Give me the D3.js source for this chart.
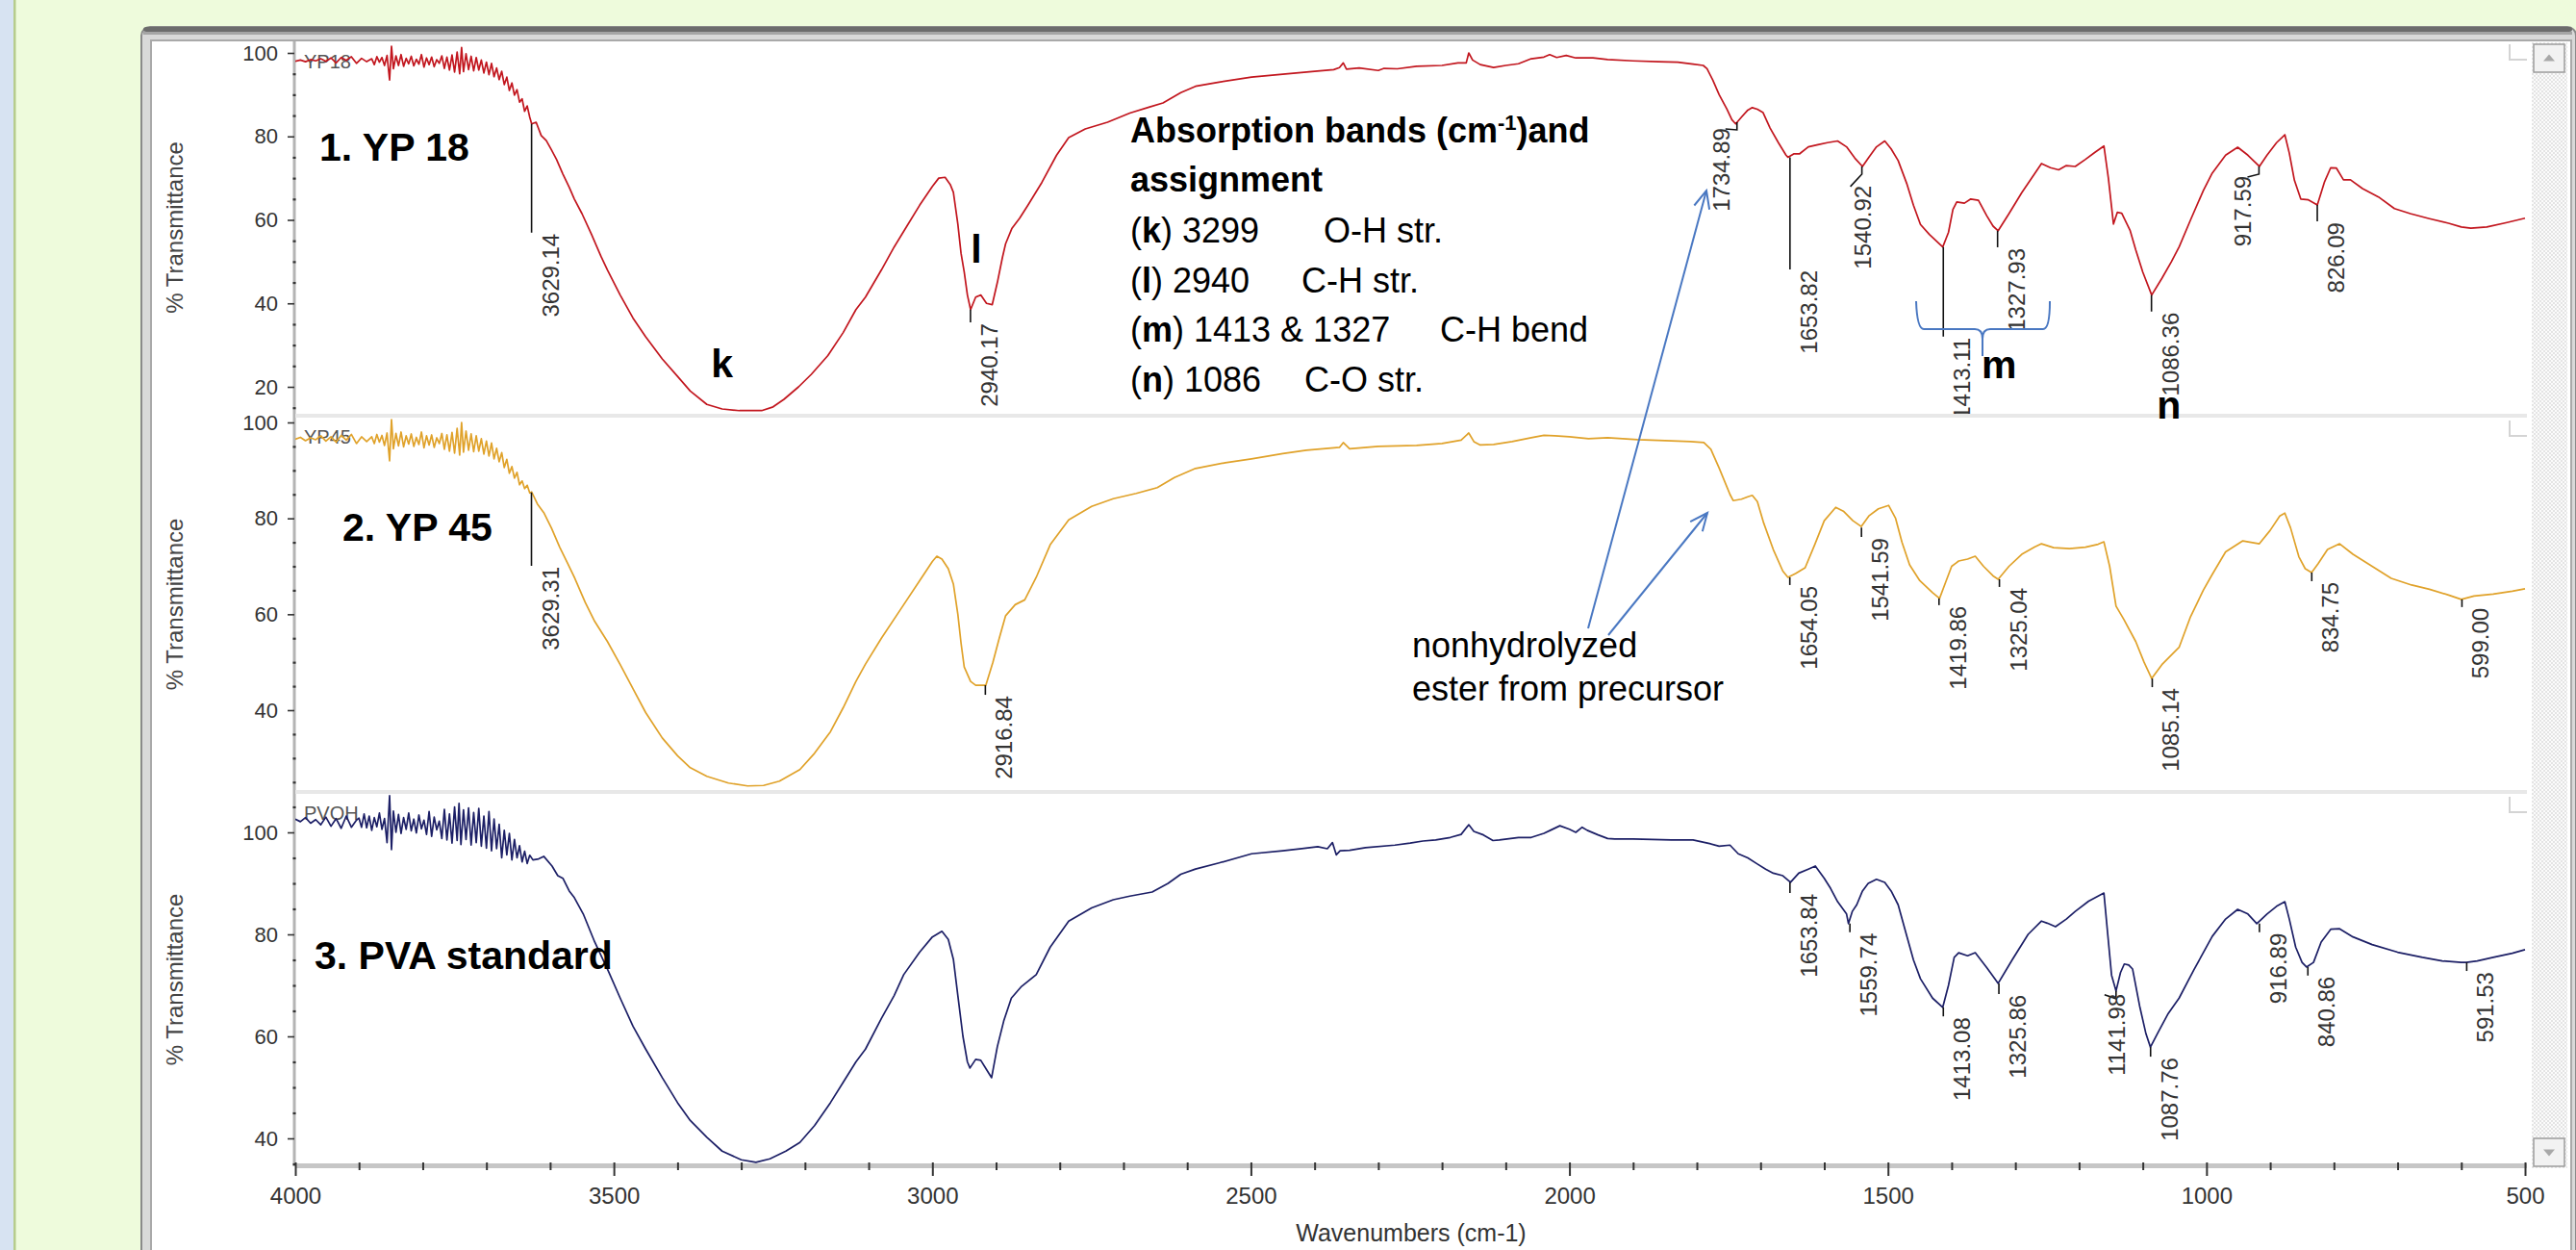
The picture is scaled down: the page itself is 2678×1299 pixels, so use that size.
<!DOCTYPE html>
<html><head><meta charset="utf-8">
<script src="https://cdn.jsdelivr.net/npm/d3@7"></script>
<style>
html,body{margin:0;padding:0;background:#eefbdc;overflow:hidden}
svg{display:block}
text{font-family:"Liberation Sans",Arial,Helvetica,sans-serif}
</style></head><body>
<svg id="c" width="2678" height="1299"></svg>
<script>
// ---------------- DATA ----------------
const xTickValues = [4000, 3500, 3000, 2500, 2000, 1500, 1000, 500];
const yTicksYP18 = [20, 40, 60, 80, 100];
const yTicksYP45 = [40, 60, 80, 100];
const yTicksPVA = [40, 60, 80, 100];

// [wavenumber cm-1, %T]
const yp18 = [[4000,98.0],[3992,98.3],[3984,97.9],[3976,98.4],[3968,98.1],[3960,98.6],[3952,98.0],[3944,98.8],[3936,97.6],[3928,98.9],[3920,98.2],[3912,99.1],[3904,97.5],[3896,98.7],[3888,97.9],[3880,98.6],[3876,97.2],[3872,99.1],[3868,97.8],[3864,98.9],[3860,97.0],[3856,99.4],[3852,93.5],[3849,101.6],[3846,96.2],[3842,99.3],[3838,97.0],[3834,99.6],[3830,96.8],[3826,98.7],[3822,97.4],[3818,99.2],[3814,96.9],[3810,98.5],[3806,97.3],[3802,99.6],[3798,96.6],[3794,98.8],[3790,97.2],[3786,99.0],[3782,96.7],[3778,98.4],[3774,97.5],[3770,99.3],[3766,96.3],[3762,99.0],[3758,95.9],[3754,99.5],[3750,95.4],[3746,100.2],[3742,95.0],[3739,101.3],[3736,95.5],[3732,99.8],[3728,96.0],[3724,99.2],[3720,95.7],[3716,98.9],[3712,95.9],[3708,98.3],[3704,95.2],[3700,97.8],[3696,94.8],[3692,97.5],[3688,94.3],[3684,96.4],[3680,93.6],[3676,95.6],[3672,92.4],[3668,94.2],[3664,91.0],[3660,92.8],[3656,89.9],[3652,91.2],[3648,88.2],[3644,89.0],[3640,86.0],[3636,87.3],[3632,84.6],[3629,83.0],[3622,83.4],[3614,80.2],[3606,79.0],[3598,76.8],[3590,74.5],[3580,71.0],[3570,67.8],[3562,65.0],[3550,61.5],[3535,56.5],[3520,51.2],[3510,48.0],[3490,42.0],[3470,36.5],[3450,32.0],[3424,26.7],[3400,22.5],[3380,19.0],[3354,15.8],[3330,14.7],[3303,14.3],[3268,14.3],[3250,15.2],[3233,17.0],[3210,20.0],[3190,23.0],[3164,27.5],[3140,33.0],[3120,38.5],[3105,41.5],[3080,48.0],[3060,53.5],[3040,58.5],[3020,63.5],[3000,68.0],[2990,70.0],[2980,70.2],[2972,68.5],[2967,66.6],[2960,59.0],[2955,52.0],[2950,47.5],[2945,42.0],[2940,38.5],[2932,41.5],[2924,42.0],[2915,40.0],[2906,39.7],[2898,45.0],[2890,51.0],[2885,54.3],[2875,58.0],[2863,60.4],[2850,63.5],[2828,69.0],[2805,75.5],[2786,79.7],[2760,81.8],[2725,83.4],[2690,85.6],[2660,87.0],[2638,88.0],[2610,90.5],[2587,92.0],[2550,93.0],[2499,94.2],[2450,94.9],[2400,95.6],[2370,96.0],[2361,96.5],[2355,97.6],[2350,96.1],[2330,96.4],[2300,95.8],[2291,96.3],[2270,96.2],[2240,96.8],[2200,97.0],[2175,97.6],[2162,97.6],[2158,100.0],[2152,98.3],[2140,97.2],[2119,96.5],[2100,97.0],[2080,97.4],[2060,98.6],[2040,99.0],[2031,99.6],[2020,98.9],[2005,99.4],[1990,98.8],[1963,98.8],[1940,98.4],[1900,98.1],[1860,97.9],[1830,97.8],[1806,97.3],[1790,97.0],[1784,96.2],[1775,93.5],[1765,90.0],[1753,86.6],[1745,84.0],[1739,83.0],[1730,84.6],[1720,86.3],[1713,86.9],[1705,86.5],[1696,85.7],[1685,82.0],[1672,78.5],[1660,75.5],[1657,75.0],[1648,75.8],[1639,75.8],[1625,77.5],[1610,78.0],[1595,78.5],[1579,78.9],[1565,77.5],[1552,74.8],[1540,72.8],[1530,75.0],[1518,77.5],[1505,78.9],[1495,77.0],[1484,74.2],[1470,68.5],[1460,63.5],[1449,58.9],[1435,56.5],[1414,53.5],[1405,57.0],[1398,62.5],[1392,64.3],[1380,64.0],[1370,65.0],[1358,64.7],[1345,61.0],[1335,58.5],[1327,57.4],[1310,61.5],[1290,66.5],[1270,71.0],[1259,73.5],[1245,72.5],[1232,72.0],[1220,73.0],[1206,72.8],[1190,74.5],[1175,76.2],[1161,77.7],[1154,70.0],[1146,59.0],[1140,61.8],[1133,61.6],[1120,57.5],[1111,52.8],[1100,47.5],[1086,42.0],[1070,46.0],[1055,50.0],[1043,53.5],[1025,60.0],[1005,67.0],[991,71.2],[970,75.5],[951,77.4],[935,75.5],[917,72.8],[905,75.5],[890,78.5],[877,80.4],[870,76.0],[862,69.5],[852,65.0],[840,64.8],[826,63.6],[815,69.0],[805,72.5],[796,72.4],[785,69.6],[774,69.6],[755,67.5],[730,65.5],[705,62.7],[680,61.5],[650,60.3],[620,59.2],[600,58.3],[585,58.0],[560,58.3],[530,59.3],[500,60.4]];

const yp45 = [[4000,96.5],[3992,96.9],[3984,96.2],[3976,96.8],[3968,96.4],[3960,97.2],[3952,96.1],[3944,97.0],[3936,95.9],[3928,97.3],[3920,96.3],[3912,97.5],[3904,95.6],[3896,97.0],[3888,96.0],[3880,97.0],[3876,95.6],[3872,97.5],[3868,95.9],[3864,97.3],[3860,95.2],[3856,97.8],[3852,92.0],[3849,100.6],[3846,94.5],[3842,97.7],[3838,95.1],[3834,98.0],[3830,94.9],[3826,97.2],[3822,95.5],[3818,97.6],[3814,95.0],[3810,96.9],[3806,95.4],[3802,98.0],[3798,94.7],[3794,97.2],[3790,95.3],[3786,97.4],[3782,94.8],[3778,96.8],[3774,95.6],[3770,97.7],[3766,94.4],[3762,97.4],[3758,94.0],[3754,97.9],[3750,93.6],[3746,98.8],[3742,93.2],[3739,100.0],[3736,93.8],[3732,98.2],[3728,94.2],[3724,97.6],[3720,93.9],[3716,97.2],[3712,94.0],[3708,96.6],[3704,93.4],[3700,96.1],[3696,93.0],[3692,95.7],[3688,92.4],[3684,94.6],[3680,91.8],[3676,93.7],[3672,90.6],[3668,92.3],[3664,89.4],[3660,90.8],[3656,88.4],[3652,89.6],[3648,87.0],[3644,87.8],[3640,86.2],[3636,86.9],[3632,85.3],[3629,85.5],[3620,83.0],[3610,81.2],[3598,78.0],[3585,74.0],[3572,70.5],[3562,67.7],[3545,62.5],[3530,58.5],[3510,54.3],[3490,49.5],[3470,44.5],[3450,39.5],[3424,34.2],[3400,30.5],[3380,28.0],[3354,26.2],[3320,24.8],[3290,24.2],[3265,24.3],[3240,25.2],[3208,27.6],[3185,31.0],[3160,35.5],[3140,40.5],[3120,46.0],[3105,49.6],[3080,55.0],[3050,61.0],[3020,67.0],[3000,71.0],[2993,72.1],[2985,71.5],[2975,69.5],[2967,66.3],[2960,60.0],[2955,54.0],[2950,49.0],[2940,46.0],[2932,45.2],[2916,45.2],[2905,50.0],[2895,55.0],[2885,59.7],[2870,62.0],[2855,63.0],[2837,67.7],[2815,74.5],[2786,79.7],[2750,82.5],[2716,84.1],[2680,85.2],[2647,86.4],[2620,88.5],[2587,90.4],[2540,91.6],[2499,92.4],[2450,93.5],[2413,94.2],[2361,94.8],[2355,95.8],[2345,94.5],[2300,95.0],[2240,95.2],[2200,95.6],[2170,96.3],[2158,97.8],[2150,96.0],[2140,95.3],[2119,95.4],[2090,96.0],[2060,96.8],[2040,97.3],[2023,97.2],[2000,97.0],[1970,96.6],[1940,96.8],[1893,96.4],[1850,96.2],[1810,96.0],[1789,95.8],[1778,94.4],[1765,90.5],[1748,85.0],[1743,83.7],[1730,84.0],[1720,84.5],[1713,84.8],[1705,83.5],[1695,79.0],[1680,73.5],[1665,69.0],[1657,67.7],[1645,68.5],[1630,69.7],[1615,74.5],[1600,79.5],[1582,82.3],[1570,81.5],[1555,79.5],[1542,78.3],[1530,80.5],[1515,82.0],[1499,82.7],[1488,80.0],[1478,75.0],[1466,70.3],[1450,67.0],[1430,64.5],[1419,63.3],[1410,66.5],[1400,70.0],[1389,71.1],[1375,71.5],[1363,72.1],[1350,70.0],[1335,68.0],[1327,67.3],[1310,70.0],[1290,72.5],[1270,74.0],[1259,74.7],[1240,73.9],[1215,73.7],[1190,74.0],[1170,74.6],[1161,75.1],[1152,70.0],[1142,61.7],[1130,59.0],[1111,54.3],[1098,50.0],[1086,46.6],[1070,49.5],[1055,51.5],[1043,53.1],[1025,59.5],[1005,65.0],[991,68.3],[970,73.0],[943,75.3],[930,75.0],[917,74.7],[900,77.5],[885,80.5],[877,81.1],[868,78.0],[855,72.0],[845,69.5],[835,68.7],[825,70.5],[810,73.5],[791,74.7],[770,72.5],[740,70.0],[710,67.5],[678,66.1],[650,65.2],[620,64.0],[600,63.1],[580,63.8],[550,64.2],[520,64.8],[500,65.3]];

const pvoh = [[4000,102.6],[3992,102.1],[3984,102.9],[3976,101.8],[3968,102.5],[3960,101.5],[3952,103.0],[3944,101.2],[3936,102.7],[3928,100.8],[3920,103.2],[3912,101.0],[3904,102.4],[3900,102.8],[3896,101.0],[3892,103.6],[3888,100.9],[3884,103.2],[3880,100.4],[3876,102.9],[3872,101.1],[3868,103.8],[3864,100.6],[3860,102.7],[3856,98.0],[3852,107.2],[3849,96.6],[3846,104.2],[3842,100.0],[3838,103.5],[3834,99.8],[3830,102.9],[3826,100.6],[3822,103.8],[3818,100.3],[3814,102.6],[3810,99.9],[3806,103.4],[3802,100.7],[3798,102.4],[3794,99.6],[3790,104.1],[3786,99.2],[3782,103.0],[3778,100.5],[3774,102.2],[3770,98.8],[3766,104.5],[3762,98.5],[3758,103.6],[3754,97.9],[3750,105.0],[3746,98.4],[3743,105.7],[3740,97.6],[3736,104.4],[3732,98.6],[3728,104.8],[3724,97.5],[3720,103.9],[3716,98.0],[3712,104.7],[3708,97.3],[3704,103.2],[3700,96.9],[3696,104.1],[3692,96.4],[3688,102.6],[3684,96.8],[3680,101.6],[3676,95.0],[3672,100.4],[3668,95.6],[3664,99.8],[3660,94.6],[3656,98.6],[3652,95.0],[3648,97.4],[3644,94.2],[3640,96.3],[3636,93.9],[3632,95.5],[3627,94.6],[3618,94.8],[3610,95.3],[3597,93.4],[3588,91.5],[3580,91.0],[3570,88.5],[3562,87.2],[3548,84.0],[3530,78.5],[3510,73.2],[3490,67.5],[3470,62.0],[3450,57.5],[3424,51.9],[3400,47.0],[3380,43.5],[3354,40.2],[3330,37.5],[3300,35.8],[3277,35.3],[3255,36.0],[3230,37.5],[3208,39.2],[3185,42.5],[3160,47.0],[3140,51.0],[3120,55.0],[3105,57.5],[3080,63.5],[3060,68.0],[3045,72.1],[3020,76.5],[3000,79.5],[2985,80.6],[2975,79.0],[2967,75.1],[2960,68.0],[2952,60.0],[2945,55.0],[2941,53.8],[2932,55.5],[2924,55.3],[2915,53.5],[2907,51.9],[2898,58.0],[2888,63.0],[2876,67.5],[2860,69.8],[2837,72.1],[2815,77.5],[2786,82.6],[2750,85.2],[2716,86.8],[2690,87.5],[2655,88.3],[2630,90.0],[2610,91.8],[2587,92.8],[2550,94.0],[2499,95.8],[2450,96.4],[2420,96.8],[2395,97.2],[2380,96.8],[2372,98.0],[2366,95.6],[2360,96.4],[2345,96.5],[2320,97.0],[2274,97.5],[2250,97.9],[2230,98.3],[2210,98.5],[2187,99.0],[2170,99.6],[2158,101.5],[2150,100.2],[2135,99.5],[2120,98.4],[2110,98.5],[2080,99.0],[2060,99.0],[2040,99.8],[2030,100.4],[2015,101.3],[2000,100.6],[1990,100.0],[1980,101.0],[1972,100.4],[1955,99.5],[1940,98.8],[1929,98.7],[1900,98.7],[1870,98.6],[1840,98.5],[1806,98.5],[1780,97.8],[1765,97.3],[1748,97.5],[1735,95.8],[1720,95.0],[1705,93.8],[1692,92.8],[1680,92.0],[1665,91.5],[1653,90.2],[1640,92.0],[1625,92.8],[1614,93.4],[1600,91.0],[1590,89.0],[1579,86.4],[1565,84.0],[1562,82.1],[1556,84.5],[1549,85.8],[1540,88.5],[1531,90.0],[1518,90.8],[1505,90.2],[1495,88.5],[1484,85.8],[1470,79.5],[1460,75.0],[1449,71.3],[1430,67.5],[1414,65.7],[1405,70.0],[1396,75.5],[1389,76.4],[1375,75.8],[1363,76.4],[1345,73.5],[1327,70.4],[1305,75.0],[1280,80.0],[1259,82.6],[1250,82.2],[1237,81.5],[1220,83.0],[1206,84.5],[1185,86.5],[1161,88.1],[1155,80.0],[1149,72.0],[1142,68.9],[1135,72.5],[1129,74.2],[1122,74.0],[1116,73.2],[1105,66.0],[1095,60.5],[1088,57.9],[1075,61.0],[1060,64.5],[1043,67.5],[1020,73.0],[991,79.6],[970,83.0],[951,84.9],[935,84.0],[921,82.1],[905,84.0],[890,85.5],[877,86.4],[870,83.0],[860,77.5],[850,74.5],[843,73.6],[832,74.5],[820,78.5],[805,81.0],[791,81.1],[770,79.5],[740,78.0],[700,76.5],[661,75.5],[630,74.8],[600,74.5],[592,74.5],[575,74.8],[550,75.5],[520,76.3],[500,77.0]];

// peak annotations: [label, wavenumber, %T at tip, %T where label starts, label side]
const yp18Peaks = [["3629.14",3629.14,83.0,57.4,"r"],["2940.17",2940.17,38.5,35.9,"r"],["1734.89",1737,83.4,82.7,"l"],["1653.82",1653.82,75.0,48.6,"r"],["1540.92",1540.92,72.8,68.9,"c"],["1413.11",1413.11,53.5,32.5,"r"],["1327.93",1327.93,57.4,53.9,"r"],["1086.36",1086.36,42.0,38.5,"r"],["917.59",917.59,72.8,71.2,"l"],["826.09",826.09,63.6,60.1,"r"]];
const yp45Peaks = [["3629.31",3629.31,85.4,70.5,"r"],["2916.84",2916.84,45.2,43.6,"r"],["1654.05",1654.05,67.7,66.5,"r"],["1541.59",1541.59,78.1,76.5,"r"],["1419.86",1419.86,63.3,62.3,"r"],["1325.04",1325.04,67.3,66.1,"r"],["1085.14",1085.14,46.6,45.2,"r"],["834.75",834.75,68.7,67.3,"r"],["599.00",599.00,63.1,61.9,"r"]];
const pvohPeaks = [["1653.84",1653.84,90.2,88.5,"r"],["1559.74",1559.74,82.1,80.8,"r"],["1413.08",1413.08,65.7,64.3,"r"],["1325.86",1325.86,70.4,68.7,"r"],["1141.98",1141.98,68.9,68.9,"c"],["1087.76",1087.76,57.9,56.4,"r"],["916.89",916.89,82.1,80.8,"r"],["840.86",840.86,73.6,72.3,"r"],["591.53",591.53,74.5,73.2,"r"]];

const sampleNames = ["YP18", "YP45", "PVOH"];
const panelTitles = ["1. YP 18", "2. YP 45", "3. PVA standard"];
// band letters placed on panel 1: [letter, wavenumber, %T]
const bandLetters = [["k", 3330, 22.3], ["l", 2931, 49.7], ["m", 1353, 22.1], ["n", 1059, 12.4]];
const bandTitle = "Absorption bands (cm";
const bandLines = [["k","3299","O-H str."],["l","2940","C-H str."],["m","1413 & 1327","C-H bend"],["n","1086","C-O str."]];
const noteLines = ["nonhydrolyzed", "ester from precursor"];

// ---------------- LAYOUT ----------------
const svg = d3.select("#c");
const W = 2678, H = 1299;
const FONT = '"Liberation Sans",Arial,Helvetica,sans-serif';
const X0 = 307, X1 = 2625, PR = 2627;
const x = d3.scaleLinear().domain([4000, 500]).range([X0, X1]);

const panels = [
  {data: yp18, peaks: yp18Peaks, ticks: yTicksYP18, color: "#c2161e", top: 43, bottom: 430, dom: [20,100], rng: [402,55], minorLo: 15, minorHi: 100, name: sampleNames[0], title: panelTitles[0], titleX: 332, titleY: 167, nameY: 71},
  {data: yp45, peaks: yp45Peaks, ticks: yTicksYP45, color: "#e0a22a", top: 434, bottom: 822, dom: [40,100], rng: [738,439], minorLo: 25, minorHi: 100, name: sampleNames[1], title: panelTitles[1], titleX: 356, titleY: 562, nameY: 461},
  {data: pvoh, peaks: pvohPeaks, ticks: yTicksPVA, color: "#1c1f66", top: 825, bottom: 1211, dom: [40,100], rng: [1183,865], minorLo: 35, minorHi: 105, name: sampleNames[2], title: panelTitles[2], titleX: 327, titleY: 1007, nameY: 852}
];

// background
svg.append("rect").attr("width", W).attr("height", H).attr("fill", "#eefbdc");
svg.append("rect").attr("x", 0).attr("y", 0).attr("width", 14).attr("height", H).attr("fill", "#d7e3f2");
svg.append("rect").attr("x", 14).attr("y", 0).attr("width", 2.5).attr("height", H).attr("fill", "#b6cc8c");

// window frame
svg.append("rect").attr("x", 147).attr("y", 28).attr("width", 2531).attr("height", 1300).attr("rx", 9)
  .attr("fill", "#d9d9d9").attr("stroke", "#8a8a8a").attr("stroke-width", 2);
svg.append("rect").attr("x", 149).attr("y", 28).attr("width", 2525).attr("height", 5).attr("rx", 3).attr("fill", "#6c6c6c");
svg.append("rect").attr("x", 149).attr("y", 33).attr("width", 2525).attr("height", 3).attr("fill", "#a5a5a5");
svg.append("rect").attr("x", 157).attr("y", 42).attr("width", 2516).attr("height", 1290)
  .attr("fill", "#ffffff").attr("stroke", "#a9a9a9").attr("stroke-width", 2);

// scrollbar
const defs = svg.append("defs");
const pat = defs.append("pattern").attr("id", "chk").attr("width", 4).attr("height", 4).attr("patternUnits", "userSpaceOnUse");
pat.append("rect").attr("width", 4).attr("height", 4).attr("fill", "#fbfbfb");
pat.append("rect").attr("width", 2).attr("height", 2).attr("fill", "#e4e4e4");
pat.append("rect").attr("x", 2).attr("y", 2).attr("width", 2).attr("height", 2).attr("fill", "#e4e4e4");
svg.append("rect").attr("x", 2632).attr("y", 44).attr("width", 37).attr("height", 1170).attr("fill", "url(#chk)");
[[46, "up"], [1183, "down"]].forEach(([yy, dir]) => {
  svg.append("rect").attr("x", 2634).attr("y", yy).attr("width", 32).attr("height", 29)
    .attr("fill", "#f2f2f2").attr("stroke", "#9c9c9c").attr("stroke-width", 1.5);
  const cx = 2650, cy = yy + 14.5;
  const tri = dir === "up" ? `M${cx-6},${cy+3} L${cx+6},${cy+3} L${cx},${cy-4} Z` : `M${cx-6},${cy-3} L${cx+6},${cy-3} L${cx},${cy+4} Z`;
  svg.append("path").attr("d", tri).attr("fill", "#a8a8a8");
});

// y axis line (shared)
svg.append("line").attr("x1", X0 - 1).attr("x2", X0 - 1).attr("y1", 43).attr("y2", 1212)
  .attr("stroke", "#b4b4b4").attr("stroke-width", 3);

const line = d3.line().x(d => x(d[0])).y(d => d.y);

panels.forEach((p, i) => {
  const y = d3.scaleLinear().domain(p.dom).range(p.rng);
  p.y = y;
  const g = svg.append("g");
  if (i > 0) {
    g.append("rect").attr("x", X0).attr("y", p.top - 4).attr("width", PR - X0).attr("height", 4).attr("fill", "#e8e8e8");
  }
  g.append("path").attr("d", `M2609,${p.top + 3} L2609,${p.top + 19} L2627,${p.top + 19}`)
    .attr("fill", "none").attr("stroke", "#d4d4d4").attr("stroke-width", 2);

  // y axis ticks
  const axis = d3.axisLeft(y).tickValues(p.ticks).tickSize(7).tickPadding(10).tickFormat(d3.format("d"));
  const ag = g.append("g").attr("transform", `translate(${X0 - 1},0)`).call(axis);
  ag.select(".domain").remove();
  ag.selectAll(".tick line").attr("stroke", "#333").attr("stroke-width", 1.6);
  ag.selectAll(".tick text").attr("fill", "#333").style("font-size", "22px").style("font-family", FONT);
  const minor = d3.range(p.minorLo, p.minorHi + 0.1, 5).filter(v => p.ticks.indexOf(v) < 0);
  const mg = g.append("g").attr("transform", `translate(${X0 - 1},0)`)
    .call(d3.axisLeft(y).tickValues(minor).tickSize(3).tickFormat(""));
  mg.select(".domain").remove();
  mg.selectAll(".tick line").attr("stroke", "#333").attr("stroke-width", 2.2).attr("transform", "translate(1.5,0)");

  // y title
  g.append("text").attr("transform", `translate(190,${(p.top + p.bottom) / 2}) rotate(-90)`)
    .attr("text-anchor", "middle").attr("fill", "#444").style("font-size", "24px").style("font-family", FONT)
    .text("% Transmittance");

  // sample name
  g.append("text").attr("x", 316).attr("y", p.nameY).attr("fill", "#555").style("font-size", "20px").style("font-family", FONT).text(p.name);

  // spectrum
  const cid = "clip" + i;
  defs.append("clipPath").attr("id", cid).append("rect").attr("x", X0).attr("y", p.top).attr("width", PR - X0).attr("height", p.bottom - p.top);
  const pts = p.data.map(d => { const o = [d[0], d[1]]; o.y = y(d[1]); return o; });
  g.append("path").attr("clip-path", `url(#${cid})`).attr("d", line(pts))
    .attr("fill", "none").attr("stroke", p.color).attr("stroke-width", 1.7).attr("stroke-linejoin", "round");

  // peak annotations (clipped to the panel)
  const pg = g.append("g").attr("clip-path", `url(#${cid})`);
  p.peaks.forEach(([lab, wn, tip, start, side]) => {
    const lx = x(wn), y0 = y(tip), y1 = y(start);
    if (side === "r") {
      pg.append("line").attr("x1", lx).attr("x2", lx).attr("y1", y0).attr("y2", y1 + 2).attr("stroke", "#111").attr("stroke-width", 1.6);
    } else {
      pg.append("path").attr("d", `M${lx},${y0} L${lx},${y0 + 8} L${lx - 12},${y1 + 4}`).attr("fill", "none").attr("stroke", "#111").attr("stroke-width", 1.6);
    }
    const tx = side === "r" ? lx + 28 : side === "c" ? lx + 9 : lx - 8;
    pg.append("text").attr("transform", `translate(${tx},${y1 + 3}) rotate(-90)`).attr("text-anchor", "end")
      .attr("fill", "#333").style("font-size", "24px").style("font-family", FONT).text(lab);
  });

  // panel title
  svg.append("text").attr("x", p.titleX).attr("y", p.titleY).attr("fill", "#000").style("font-size", "41px")
    .style("font-weight", "bold").style("font-family", FONT).text(p.title);
});

// x axis
const xb = svg.append("g");
xb.append("rect").attr("x", X0).attr("y", 1209).attr("width", PR - X0).attr("height", 5).attr("fill", "#c6c6c6");
const xMinor = d3.range(3900, 500, -100).filter(v => v % 500 !== 0);
const xm = xb.append("g").attr("transform", "translate(0,1216)").call(d3.axisTop(x).tickValues(xMinor).tickSize(8).tickFormat(""));
xm.select(".domain").remove();
xm.selectAll(".tick line").attr("stroke", "#333").attr("stroke-width", 2);
const xa = xb.append("g").attr("transform", "translate(0,1208)").call(d3.axisBottom(x).tickValues(xTickValues).tickSize(14).tickPadding(12).tickFormat(d3.format("d")));
xa.select(".domain").remove();
xa.selectAll(".tick line").attr("stroke", "#333").attr("stroke-width", 2);
xa.selectAll(".tick text").attr("fill", "#333").style("font-size", "24px").style("font-family", FONT);
svg.append("text").attr("x", 1467).attr("y", 1290).attr("text-anchor", "middle").attr("fill", "#333")
  .style("font-size", "25px").style("font-family", FONT).text("Wavenumbers (cm-1)");

// letters k, l, m, n on panel 1
const y1s = panels[0].y;
bandLetters.forEach(([t, wn, v]) => {
  svg.append("text").attr("x", x(wn)).attr("y", y1s(v)).attr("text-anchor", t === "m" ? "start" : "middle")
    .attr("fill", "#000").style("font-size", "41px").style("font-weight", "bold").style("font-family", FONT).text(t);
});

// absorption band text block
const tb = svg.append("g").style("font-family", FONT).attr("fill", "#000");
const bx = 1175;
const head = tb.append("text").attr("x", bx).attr("y", 148).style("font-size", "36px").style("font-weight", "bold");
head.append("tspan").text(bandTitle);
head.append("tspan").attr("dy", -13).style("font-size", "22px").text("-1");
head.append("tspan").attr("dy", 13).text(")and");
tb.append("text").attr("x", bx).attr("y", 199).style("font-size", "36px").style("font-weight", "bold").text("assignment");
const colX = [201, 178, 322, 181];
bandLines.forEach(([k, v, a], i) => {
  const t = tb.append("text").attr("x", bx).attr("y", 252 + i * 51.7).style("font-size", "36px");
  t.append("tspan").text("(");
  t.append("tspan").style("font-weight", "bold").text(k);
  t.append("tspan").text(") " + v);
  t.append("tspan").attr("x", bx + colX[i]).text(a);
});

// blue brace under m
svg.append("path").attr("d", "M1992,313 Q1993,342 2000,342 L2053,342 Q2061,342 2061,352 L2061,370 M2061,352 Q2061,342 2069,342 L2124,342 Q2131,342 2131,313")
  .attr("fill", "none").attr("stroke", "#4a78c2").attr("stroke-width", 2);

// note + arrows
noteLines.forEach((t, i) => {
  svg.append("text").attr("x", 1468).attr("y", 683 + i * 45).attr("fill", "#000").style("font-size", "36px").style("font-family", FONT).text(t);
});
const arrowHead = (xa0, ya0, xb0, yb0) => {
  const ang = Math.atan2(yb0 - ya0, xb0 - xa0), L = 20, s = 0.42;
  return `M${xb0 - L * Math.cos(ang - s)},${yb0 - L * Math.sin(ang - s)} L${xb0},${yb0} L${xb0 - L * Math.cos(ang + s)},${yb0 - L * Math.sin(ang + s)}`;
};
[[1651, 653, 1774, 198], [1672, 660, 1775, 533]].forEach(([a, b, c, d]) => {
  svg.append("line").attr("x1", a).attr("y1", b).attr("x2", c).attr("y2", d).attr("stroke", "#4a78c2").attr("stroke-width", 2);
  svg.append("path").attr("d", arrowHead(a, b, c, d)).attr("fill", "none").attr("stroke", "#4a78c2").attr("stroke-width", 2);
});
</script></body></html>
